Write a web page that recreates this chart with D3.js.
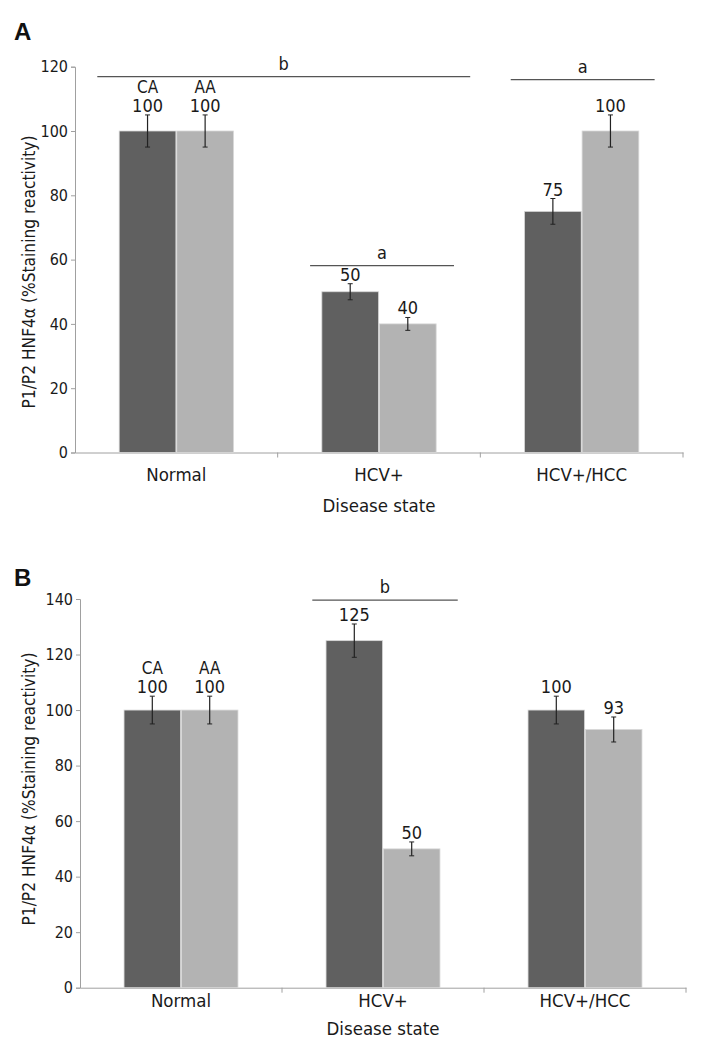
<!DOCTYPE html>
<html>
<head>
<meta charset="utf-8">
<script src="https://cdn.jsdelivr.net/npm/d3@7"></script>
<style>
body{margin:0;background:#fff;}
text{font-family:"DejaVu Sans Condensed","DejaVu Sans",sans-serif;fill:#1a1a1a;}
</style>
</head>
<body>
<svg id="chart" width="701" height="1056"></svg>
<script>
// ---- data ----
const categories = ["Normal", "HCV+", "HCV+/HCC"];
const seriesNames = ["CA", "AA"];
const yTicksA = [0, 20, 40, 60, 80, 100, 120];
const yTicksB = [0, 20, 40, 60, 80, 100, 120, 140];
const panelA_CA = [100, 50, 75];
const panelA_AA = [100, 40, 100];
const panelA_errCA = [5, 2.5, 4];
const panelA_errAA = [5, 2, 5];
const panelB_CA = [100, 125, 100];
const panelB_AA = [100, 50, 93];
const panelB_errCA = [5, 6, 5];
const panelB_errAA = [5, 2.5, 4.5];
// significance brackets: label, start/end in category units, level in value units
const sigA = [
  {label: "b", from: 0.11, to: 1.95, level: 116.9},
  {label: "a", from: 1.16, to: 1.87, level: 58.1},
  {label: "a", from: 2.15, to: 2.86, level: 116.0}
];
const sigB = [
  {label: "b", from: 1.15, to: 1.87, level: 139.6}
];
const yTitle = "P1/P2 HNF4\u03b1 (%Staining reactivity)";
const xTitle = "Disease state";

const colors = {CA: "#606060", AA: "#b3b3b3"};

const svg = d3.select("#chart");
const FONT = "'DejaVu Sans Condensed','DejaVu Sans',sans-serif";

function drawPanel(cfg) {
  const g = svg.append("g");
  const x = d3.scaleBand().domain(categories).range([cfg.x0, cfg.x1]).padding(0);
  const step = x.step();
  const xs = d3.scaleBand().domain(seriesNames).range([step * 0.218, step * 0.782]).paddingInner(0.015);
  const y = d3.scaleLinear().domain([0, cfg.yMax]).range([cfg.yBottom, cfg.yTop]);

  // panel letter
  g.append("text").attr("x", 14).attr("y", cfg.letterY).text(cfg.letter)
    .style("font-family", "'Liberation Sans',Arial,sans-serif").style("font-weight", "bold")
    .style("font-size", "24px").style("fill", "#111");

  // y axis
  const ya = g.append("g").attr("transform", `translate(${cfg.x0},0)`)
    .call(d3.axisLeft(y).tickValues(cfg.ticks).tickSize(4).tickPadding(3));
  ya.select(".domain").attr("stroke", "#a0a0a0");
  ya.selectAll(".tick line").attr("stroke", "#a0a0a0");
  ya.selectAll(".tick text").style("font-size", "16px").style("font-family", FONT).attr("fill", "#1a1a1a");

  // x axis
  const xa = g.append("g").attr("transform", `translate(0,${cfg.yBottom})`)
    .call(d3.axisBottom(x).tickSize(0).tickPadding(cfg.catPad));
  xa.select(".domain").attr("stroke", "#a0a0a0");
  xa.selectAll(".tick text").style("font-size", "18.5px").style("font-family", FONT).attr("fill", "#1a1a1a");
  // boundary ticks
  g.selectAll(".bt").data(categories.slice(1).concat(["end"])).enter().append("line")
    .attr("x1", (d, i) => cfg.x0 + (i + 1) * step).attr("x2", (d, i) => cfg.x0 + (i + 1) * step)
    .attr("y1", cfg.yBottom).attr("y2", cfg.yBottom + 5).attr("stroke", "#a0a0a0");

  // bars
  const rows = [];
  categories.forEach((c, i) => {
    rows.push({cat: c, s: "CA", v: cfg.CA[i], e: cfg.errCA[i], i});
    rows.push({cat: c, s: "AA", v: cfg.AA[i], e: cfg.errAA[i], i});
  });
  g.selectAll(".bar").data(rows).enter().append("rect")
    .attr("x", d => x(d.cat) + xs(d.s))
    .attr("width", xs.bandwidth())
    .attr("y", d => y(d.v))
    .attr("height", d => y(0) - y(d.v))
    .attr("fill", d => colors[d.s])
    .attr("stroke", "#d8d8d8").attr("stroke-width", 0.8);

  // error bars
  const eb = g.selectAll(".eb").data(rows).enter().append("g")
    .attr("transform", d => `translate(${x(d.cat) + xs(d.s) + xs.bandwidth() / 2},0)`);
  eb.append("line").attr("y1", d => y(d.v + d.e)).attr("y2", d => y(d.v - d.e)).attr("stroke", "#222").attr("stroke-width", 1.2);
  eb.append("line").attr("x1", -2.5).attr("x2", 2.5).attr("y1", d => y(d.v + d.e)).attr("y2", d => y(d.v + d.e)).attr("stroke", "#222");
  eb.append("line").attr("x1", -2.5).attr("x2", 2.5).attr("y1", d => y(d.v - d.e)).attr("y2", d => y(d.v - d.e)).attr("stroke", "#222");
  // value labels
  eb.append("text").attr("text-anchor", "middle").attr("y", d => y(d.v + d.e) - 3)
    .style("font-size", "18px").text(d => d.v);
  // series labels on first group
  eb.filter(d => d.i === 0).append("text").attr("text-anchor", "middle")
    .attr("y", d => y(d.v + d.e) - 22).style("font-size", "17px").text(d => d.s);

  // significance
  cfg.sig.forEach(s => {
    const xa0 = cfg.x0 + s.from * step, xa1 = cfg.x0 + s.to * step, yy = y(s.level);
    g.append("line").attr("x1", xa0).attr("x2", xa1).attr("y1", yy).attr("y2", yy).attr("stroke", "#555").attr("stroke-width", 1.2);
    g.append("text").attr("x", (xa0 + xa1) / 2).attr("y", yy - 7).attr("text-anchor", "middle")
      .style("font-size", "18px").text(s.label);
  });

  // axis titles
  g.append("text").attr("x", (cfg.x0 + cfg.x1) / 2).attr("y", cfg.xTitleY).attr("text-anchor", "middle")
    .style("font-size", "18.5px").text(xTitle);
  g.append("text").attr("transform", `translate(${cfg.yTitleX},${cfg.yTitleCY}) rotate(-90)`)
    .attr("text-anchor", "middle").style("font-size", "17.2px").text(yTitle);
}

drawPanel({letter: "A", letterY: 40, x0: 75, x1: 683, yTop: 66.7, yBottom: 452.5, yMax: 120, ticks: yTicksA,
  CA: panelA_CA, AA: panelA_AA, errCA: panelA_errCA, errAA: panelA_errAA, sig: sigA,
  catPad: 15, xTitleY: 512, yTitleX: 35, yTitleCY: 272});
drawPanel({letter: "B", letterY: 586, x0: 80, x1: 686, yTop: 599, yBottom: 987.7, yMax: 140, ticks: yTicksB,
  CA: panelB_CA, AA: panelB_AA, errCA: panelB_errCA, errAA: panelB_errAA, sig: sigB,
  catPad: 6, xTitleY: 1034.5, yTitleX: 35, yTitleCY: 789});
</script>
</body>
</html>
